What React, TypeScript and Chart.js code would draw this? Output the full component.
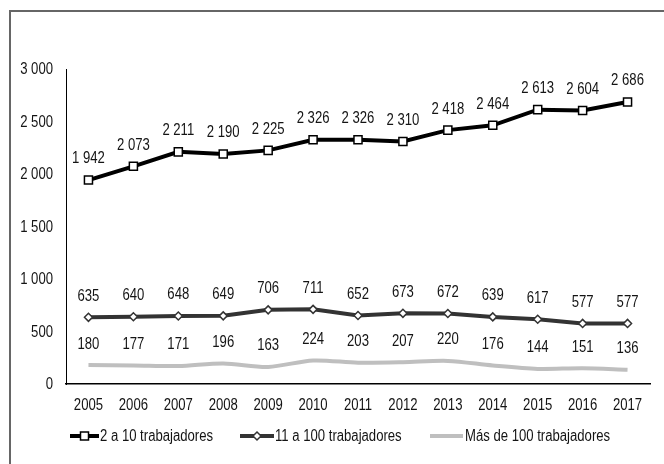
import React, { useEffect, useRef } from "react";
import { Chart, registerables } from "chart.js";

Chart.register(...registerables);

const years = ["2005","2006","2007","2008","2009","2010","2011","2012","2013","2014","2015","2016","2017"];
const small = [1942, 2073, 2211, 2190, 2225, 2326, 2326, 2310, 2418, 2464, 2613, 2604, 2686];
const medium = [635, 640, 648, 649, 706, 711, 652, 673, 672, 639, 617, 577, 577];
const large = [180, 177, 171, 196, 163, 224, 203, 207, 220, 176, 144, 151, 136];
const seriesNames = ["2 a 10 trabajadores", "11 a 100 trabajadores", "Más de 100 trabajadores"];
const yTicks = [0, 500, 1000, 1500, 2000, 2500, 3000];

const FONT = '"Liberation Sans", Arial, sans-serif';
const NARROW = 0.82;
const TEXT_COLOR = "#141414";
const fmt = (v: number) => String(v).replace(/\B(?=(\d{3})+(?!\d))/g, " ");

const COLORS = ["#000000", "#333333", "#bfbfbf"];

function narrowText(ctx: CanvasRenderingContext2D, text: string, x: number, y: number, align: CanvasTextAlign) {
  ctx.save();
  ctx.translate(x, y);
  ctx.scale(NARROW, 1);
  ctx.font = `16px ${FONT}`;
  ctx.fillStyle = TEXT_COLOR;
  ctx.textAlign = align;
  ctx.textBaseline = "middle";
  ctx.fillText(text, 0, 0);
  ctx.restore();
}

const framePlugin = {
  id: "frame",
  beforeDraw(chart: any) {
    const ctx = chart.ctx;
    ctx.save();
    ctx.strokeStyle = "#666666";
    ctx.lineWidth = 2;
    ctx.beginPath();
    ctx.moveTo(10, 464);
    ctx.lineTo(10, 11);
    ctx.lineTo(664, 11);
    ctx.stroke();
    ctx.restore();
  },
};

const axisTextPlugin = {
  id: "axisText",
  afterDraw(chart: any) {
    const ctx = chart.ctx;
    const xs = chart.scales.x;
    const ys = chart.scales.y;
    years.forEach((yr, i) => {
      narrowText(ctx, yr, xs.getPixelForValue(i), 406, "center");
    });
    yTicks.forEach((v) => {
      narrowText(ctx, fmt(v), 53, ys.getPixelForValue(v) + 1, "right");
    });
  },
};

const labelPlugin = {
  id: "valueLabels",
  afterDatasetsDraw(chart: any) {
    const ctx = chart.ctx;
    chart.data.datasets.forEach((ds: any, i: number) => {
      const meta = chart.getDatasetMeta(i);
      meta.data.forEach((pt: any, j: number) => {
        narrowText(ctx, fmt(ds.data[j]), pt.x, pt.y - 21, "center");
      });
    });
  },
};

const legendPlugin = {
  id: "customLegend",
  afterDraw(chart: any) {
    const ctx = chart.ctx;
    const y = 436;
    const items = [
      { x0: 70, x1: 99, tx: 100, style: "rect" },
      { x0: 240, x1: 274, tx: 275, style: "rectRot" },
      { x0: 430, x1: 463, tx: 465, style: null },
    ];
    items.forEach((it, i) => {
      ctx.save();
      ctx.strokeStyle = COLORS[i];
      ctx.lineWidth = 4;
      ctx.beginPath();
      ctx.moveTo(it.x0, y);
      ctx.lineTo(it.x1, y);
      ctx.stroke();
      const cx = (it.x0 + it.x1) / 2;
      if (it.style === "rect") {
        ctx.fillStyle = "#fff";
        ctx.lineWidth = 1.5;
        ctx.fillRect(cx - 4, y - 4, 8, 8);
        ctx.strokeRect(cx - 4, y - 4, 8, 8);
      } else if (it.style === "rectRot") {
        ctx.fillStyle = "#fff";
        ctx.lineWidth = 1.5;
        ctx.beginPath();
        ctx.moveTo(cx, y - 4);
        ctx.lineTo(cx + 4, y);
        ctx.lineTo(cx, y + 4);
        ctx.lineTo(cx - 4, y);
        ctx.closePath();
        ctx.fill();
        ctx.stroke();
      }
      ctx.restore();
      narrowText(ctx, seriesNames[i], it.tx, y + 1, "left");
    });
  },
};

export default function App() {
  const ref = useRef<HTMLCanvasElement | null>(null);
  useEffect(() => {
    if (!ref.current) return;
    const chart = new Chart(ref.current, {
      type: "line",
      data: {
        labels: years,
        datasets: [
          {
            label: seriesNames[0],
            data: small,
            borderColor: COLORS[0],
            borderWidth: 4,
            pointStyle: "rect",
            pointRadius: 5.7,
            pointBackgroundColor: "#ffffff",
            pointBorderColor: "#000000",
            pointBorderWidth: 1.5,
            tension: 0,
          },
          {
            label: seriesNames[1],
            data: medium,
            borderColor: COLORS[1],
            borderWidth: 4,
            pointStyle: "rectRot",
            pointRadius: 4,
            pointBackgroundColor: "#ffffff",
            pointBorderColor: COLORS[1],
            pointBorderWidth: 1.5,
            tension: 0,
          },
          {
            label: seriesNames[2],
            data: large,
            borderColor: COLORS[2],
            borderWidth: 4,
            pointRadius: 0,
            tension: 0.3,
          },
        ],
      },
      options: {
        responsive: false,
        animation: false,
        layout: { padding: { left: 0, right: 14, top: 69, bottom: 0 } },
        plugins: {
          legend: { display: false },
          tooltip: { enabled: false },
        },
        scales: {
          x: {
            offset: true,
            grid: { display: false, drawTicks: false },
            border: { display: true, color: "#000000", width: 1.5 },
            ticks: { display: false },
            afterFit: (s: any) => { s.height = 80; },
          },
          y: {
            min: 0,
            max: 3000,
            afterBuildTicks: (s: any) => { s.ticks = yTicks.map((v) => ({ value: v })); },
            grid: { display: false, drawTicks: false },
            border: { display: true, color: "#000000", width: 1 },
            ticks: { display: false },
            afterFit: (s: any) => { s.width = 66; },
          },
        },
      },
      plugins: [framePlugin, axisTextPlugin, labelPlugin, legendPlugin],
    });
    return () => chart.destroy();
  }, []);
  return (
    <div style={{ position: "absolute", left: 0, top: 0, width: 664, height: 464, background: "#fff" }}>
      <canvas ref={ref} width={664} height={464} style={{ display: "block" }} />
    </div>
  );
}
